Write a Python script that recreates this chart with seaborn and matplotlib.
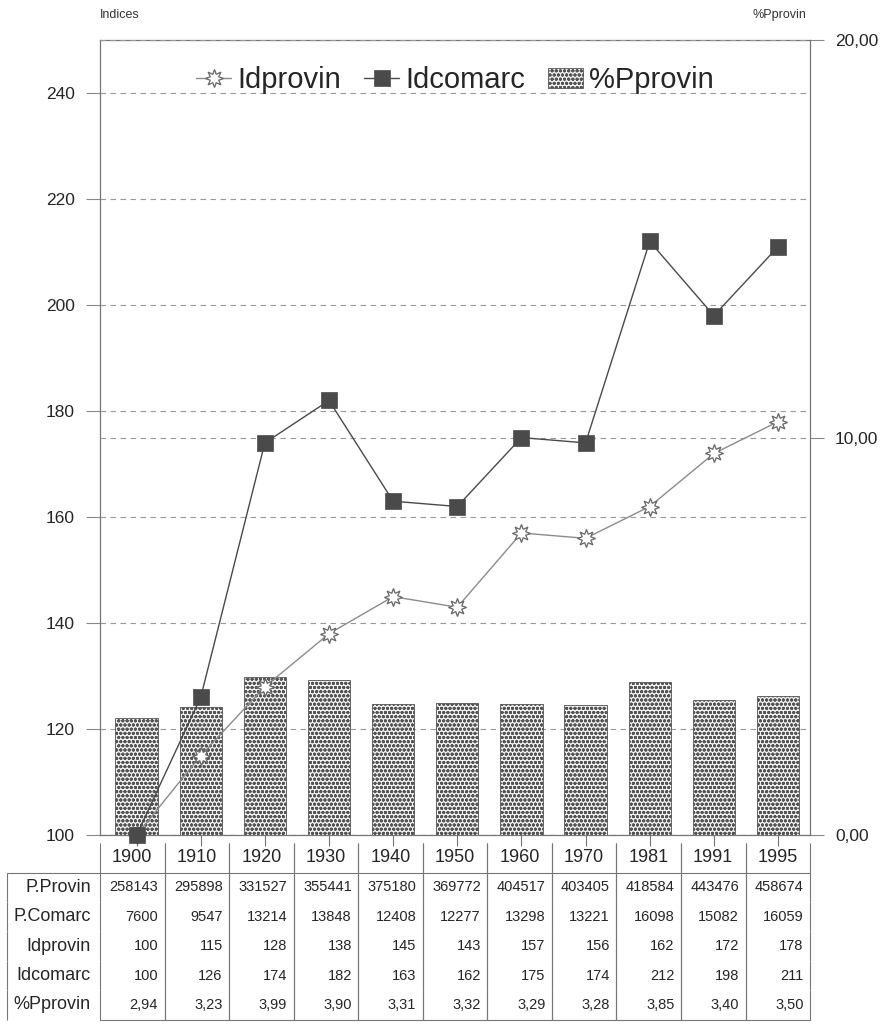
"""
Evolucion de la poblacion provincial y comarcal (indices y % comarca/provincia).
"""
import numpy as np
import matplotlib
matplotlib.use("Agg")
import matplotlib.pyplot as plt
import seaborn as sns

years = ["1900", "1910", "1920", "1930", "1940", "1950", "1960", "1970", "1981", "1991", "1995"]
p_provin = [258143, 295898, 331527, 355441, 375180, 369772, 404517, 403405, 418584, 443476, 458674]
p_comarc = [7600, 9547, 13214, 13848, 12408, 12277, 13298, 13221, 16098, 15082, 16059]
idprovin = [100, 115, 128, 138, 145, 143, 157, 156, 162, 172, 178]
idcomarc = [100, 126, 174, 182, 163, 162, 175, 174, 212, 198, 211]
pct_provin = [2.94, 3.23, 3.99, 3.90, 3.31, 3.32, 3.29, 3.28, 3.85, 3.40, 3.50]

row_labels = ["P.Provin", "P.Comarc", "Idprovin", "Idcomarc", "%Pprovin"]
left_ticks = [100, 120, 140, 160, 180, 200, 220, 240]
right_ticks = [0, 10, 20]

sns.set_theme(style="white")
plt.rcParams["font.family"] = ["Liberation Sans", "DejaVu Sans"]

fig = plt.figure(figsize=(8.81, 10.26), dpi=100)
ax = fig.add_axes([0.1135, 0.186, 0.806, 0.775])
ax2 = ax.twinx()   # right axis, bars
ax3 = ax.twinx()   # left scale again, lines on top

grid_kw = dict(color="#9a9a9a", linestyle=(0, (5, 4)), linewidth=0.8)

# bars on right axis
sns.barplot(x=years, y=pct_provin, ax=ax2, width=0.66, color="#f2f2f2",
            edgecolor="#555555", linewidth=0.6, hatch="oooo", label="%Pprovin",
            errorbar=None, zorder=3)
ax2.set_ylim(0, 20)
ax2.set_yticks(right_ticks)
ax2.set_yticklabels([f"{v:.2f}".replace(".", ",") for v in right_ticks], fontsize=12.5)
ax2.yaxis.grid(True, **grid_kw)
ax2.set_axisbelow(True)
ax2.tick_params(axis="y", direction="out", length=10, width=0.8, color="#888888", pad=8)

# lines on left scale
sns.pointplot(x=years, y=idprovin, ax=ax3, color="#8c8c8c", marker=(8, 1, 0),
              markersize=13, linewidth=1.0, markeredgewidth=0.9,
              markerfacecolor="white", markeredgecolor="#666666", label="Idprovin",
              errorbar=None, clip_on=False)
sns.pointplot(x=years, y=idcomarc, ax=ax3, color="#4a4a4a", marker="s",
              markersize=11, linewidth=1.0, markeredgewidth=0.5, label="Idcomarc",
              errorbar=None, clip_on=False)

for a in (ax, ax3):
    a.set_ylim(100, 250)
ax.set_yticks(left_ticks)
ax.set_yticklabels([str(v) for v in left_ticks], fontsize=12.5)
ax.yaxis.grid(True, **grid_kw)
ax.tick_params(axis="y", direction="out", length=10, width=0.8, color="#888888", pad=8)
ax3.set_yticks([])
ax3.set_ylabel("")
ax2.set_ylabel("")
ax.set_ylabel("")

for a in (ax, ax2, ax3):
    a.set_xlim(-0.57, 10.5)
    a.tick_params(axis="x", labelbottom=False)
ax.set_xticks(range(len(years)))
ax.tick_params(axis="x", direction="out", length=8, width=0.8, color="#777777", bottom=True)
ax2.tick_params(axis="x", bottom=False)
ax3.tick_params(axis="x", bottom=False)
ax2.set_xlabel("")
ax3.set_xlabel("")

for a in (ax, ax2, ax3):
    for s in a.spines.values():
        s.set_visible(False)
ax.spines["left"].set_visible(True)
ax.spines["bottom"].set_visible(True)
ax.spines["top"].set_visible(True)
ax2.spines["right"].set_visible(True)
for s in [ax.spines["left"], ax.spines["bottom"], ax.spines["top"], ax2.spines["right"]]:
    s.set_color("#777777")
    s.set_linewidth(0.9)

# legend
h3, l3 = ax3.get_legend_handles_labels()
h2, l2 = ax2.get_legend_handles_labels()
order = {"Idprovin": 0, "Idcomarc": 1, "%Pprovin": 2}
items = sorted(zip(h3 + h2, l3 + l2), key=lambda t: order.get(t[1], 9))
ax3.legend([h for h, _ in items], [l for _, l in items], loc="upper center",
           bbox_to_anchor=(0.5, 1.0), ncol=3, frameon=False, fontsize=21,
           handlelength=1.2, handletextpad=0.2, columnspacing=0.8)
leg2 = ax2.get_legend()
if leg2:
    leg2.remove()

fig.text(0.113, 0.985, "Indices", fontsize=9, ha="left", va="center", color="#333333")
fig.text(0.915, 0.985, "%Pprovin", fontsize=9, ha="right", va="center", color="#333333")

# data table below
def fmt(v):
    return f"{v:.2f}".replace(".", ",")

cell_text = [
    [str(v) for v in p_provin],
    [str(v) for v in p_comarc],
    [str(v) for v in idprovin],
    [str(v) for v in idcomarc],
    [fmt(v) for v in pct_provin],
]
tab = ax.table(cellText=cell_text, rowLabels=row_labels, colLabels=years,
               cellLoc="right", rowLoc="right", colLoc="center",
               bbox=[0.0, -0.232, 1.0, 0.222])
tab.auto_set_font_size(False)
nrows = len(row_labels)
for (r, c), cell in tab.get_celld().items():
    cell.set_edgecolor("#777777")
    cell.set_linewidth(0.8)
    txt = cell.get_text()
    if r == 0:
        cell.visible_edges = "LRB"
        txt.set_fontsize(13)
    elif c == -1:
        cell.visible_edges = "LT" if r == 1 else "L"
        txt.set_fontsize(13)
    else:
        cell.visible_edges = "LRB" if r == nrows else "LR"
        txt.set_fontsize(10.5)
tab.auto_set_column_width(-1)

fig.savefig("out.png", dpi=100, facecolor="white")
